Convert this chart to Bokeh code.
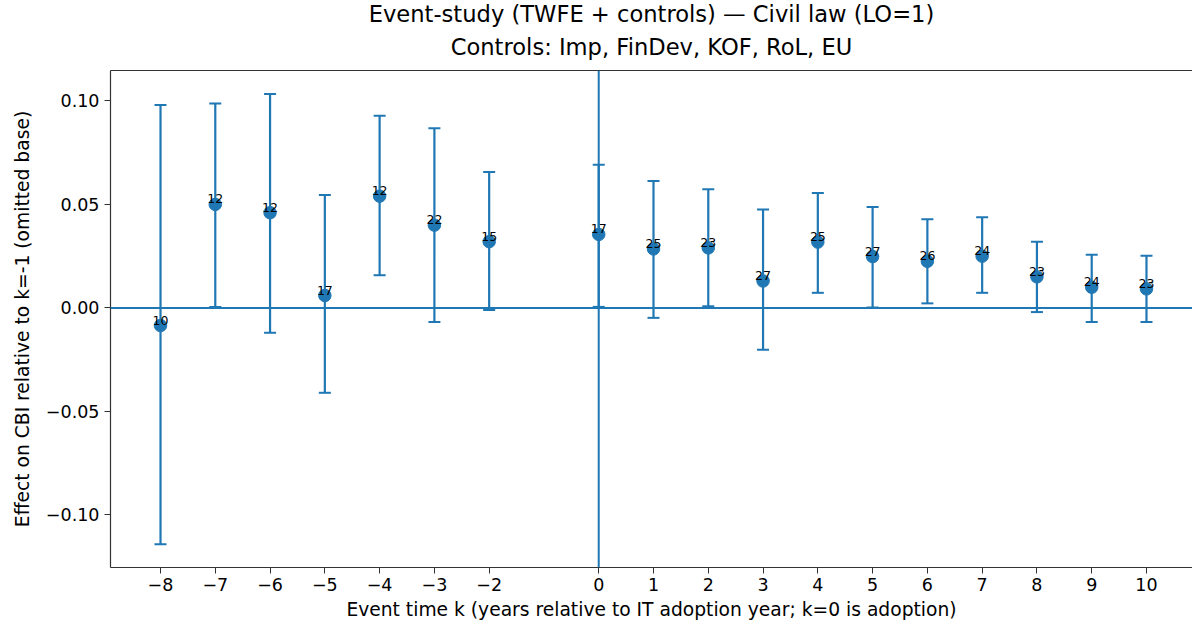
from bokeh.plotting import figure
from bokeh.models import (ColumnDataSource, Whisker, TeeHead, Span, FixedTicker,
                          CustomJSTickFormatter, Range1d, Title, LinearAxis)
from bokeh.core.properties import value
from bokeh.embed import file_html
from bokeh.resources import INLINE

# ---- data ----
k_vals = [-8, -7, -6, -5, -4, -3, -2, 0, 1, 2, 3, 4, 5, 6, 7, 8, 9, 10]
coef = [-0.0085, 0.0500, 0.0460, 0.0060, 0.0540, 0.0400, 0.0320, 0.0355, 0.0285,
        0.0290, 0.0130, 0.0318, 0.0248, 0.0225, 0.0250, 0.0150, 0.0100, 0.0092]
ci_high = [0.0980, 0.0988, 0.1033, 0.0545, 0.0928, 0.0868, 0.0657, 0.0692, 0.0613,
           0.0573, 0.0476, 0.0555, 0.0487, 0.0428, 0.0438, 0.0320, 0.0257, 0.0252]
ci_low = [-0.1142, 0.0005, -0.0120, -0.0410, 0.0158, -0.0068, -0.0010, 0.0005, -0.0048,
          0.0008, -0.0202, 0.0073, 0.0002, 0.0022, 0.0073, -0.0020, -0.0068, -0.0068]
n_obs = [10, 12, 12, 17, 12, 22, 15, 17, 25, 23, 27, 25, 27, 26, 24, 23, 24, 23]
x_ticks = [-8, -7, -6, -5, -4, -3, -2, 0, 1, 2, 3, 4, 5, 6, 7, 8, 9, 10]
y_ticks = [-0.10, -0.05, 0.0, 0.05, 0.10]

title_line1 = "Event-study (TWFE + controls) \u2014 Civil law (LO=1)"
title_line2 = "Controls: Imp, FinDev, KOF, RoL, EU"
x_label = "Event time k (years relative to IT adoption year; k=0 is adoption)"
y_label = "Effect on CBI relative to k=-1 (omitted base)"

BLUE = "#1f77b4"
FONT = "DejaVu Sans"

src = ColumnDataSource(dict(k=k_vals, coef=coef, hi=ci_high, lo=ci_low,
                            lab=[str(n) for n in n_obs]))

p = figure(width=1192, height=630, output_backend="svg", toolbar_location=None,
           x_range=Range1d(-8.913, 10.84), y_range=Range1d(-0.1254, 0.1147),
           min_border_left=110, min_border_right=0, min_border_top=70,
           min_border_bottom=63)
p.grid.visible = False
p.outline_line_color = None
p.background_fill_color = "white"
p.border_fill_color = "white"

# axes styling (below + left)
xax = p.below[0]
yax = p.left[0]
for ax, ticks, code in ((xax, x_ticks, "return String(tick).replace('-', '\u2212');"),
                        (yax, y_ticks, "return tick.toFixed(2).replace('-', '\u2212');")):
    ax.ticker = FixedTicker(ticks=ticks)
    ax.formatter = CustomJSTickFormatter(code=code)
    ax.major_label_text_font = FONT
    ax.major_label_text_font_size = "17.5px"
    ax.major_label_text_color = "black"
    ax.axis_label_text_font = FONT
    ax.axis_label_text_font_size = "18.7px"
    ax.axis_label_text_font_style = "normal"
    ax.axis_label_text_color = "black"
    ax.major_tick_in = 0
    ax.major_tick_out = 6
    ax.minor_tick_line_color = None
    ax.axis_line_color = "#333333"
    ax.axis_line_width = 1.2
    ax.major_tick_line_color = "#333333"

xax.axis_label = x_label
yax.axis_label = y_label
xax.major_label_standoff = 4
yax.major_label_standoff = 5
xax.axis_label_standoff = 5
yax.axis_label_standoff = 10

# top border as an unlabeled axis (nearest the plot)
top_ax = LinearAxis(ticker=FixedTicker(ticks=[]), major_label_text_font_size="0px",
                    major_tick_line_color=None, minor_tick_line_color=None,
                    major_tick_out=0, major_label_standoff=0,
                    axis_line_color="#333333", axis_line_width=1.2)
p.add_layout(top_ax, "above")

# titles (first added is nearest the plot)
p.add_layout(Title(text=title_line2, align="center", text_font=FONT,
                   text_font_size="22.6px", text_font_style="normal",
                   text_color="black", standoff=21), "above")
p.add_layout(Title(text=title_line1, align="center", text_font=FONT,
                   text_font_size="22.6px", text_font_style="normal",
                   text_color="black", standoff=-10), "above")

# reference lines
p.add_layout(Span(location=0, dimension="width", line_color=BLUE, line_width=2))
p.add_layout(Span(location=0, dimension="height", line_color=BLUE, line_width=2))

# error bars
wh = Whisker(base="k", upper="hi", lower="lo", source=src, dimension="height",
             line_color=BLUE, line_width=2.2,
             upper_head=TeeHead(size=12, line_color=BLUE, line_width=2),
             lower_head=TeeHead(size=12, line_color=BLUE, line_width=2))
p.add_layout(wh)

p.scatter("k", "coef", source=src, size=12.5, color=BLUE)

p.text("k", "coef", text="lab", source=src, text_align="center",
       text_baseline="bottom", text_font=value(FONT), text_font_size="12.5px",
       text_color="black", y_offset=-1)

open("out.html", "w").write(file_html(p, INLINE))
